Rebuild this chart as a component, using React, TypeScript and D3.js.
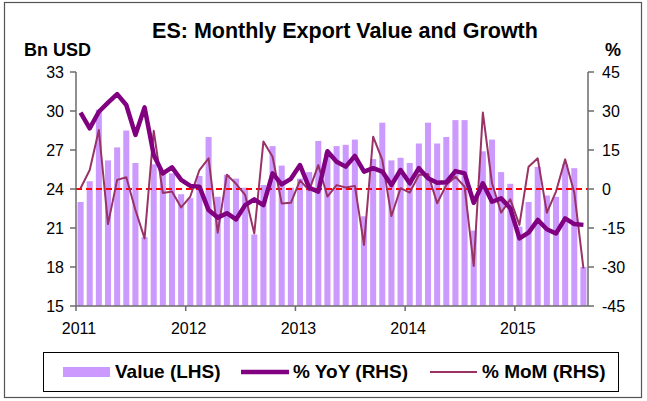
import React from "react";
import * as d3 from "d3";

const years = ["2011", "2012", "2013", "2014", "2015"];

const values = [
  23.0, 24.6, 30.1, 26.2, 27.2, 28.5, 26.0, 20.3, 25.9, 25.2, 25.2, 23.6,
  23.3, 25.0, 28.0, 23.4, 25.1, 24.8, 24.1, 20.5, 24.3, 27.3, 25.8, 24.1,
  24.8, 25.3, 27.7, 26.8, 27.3, 27.4, 27.8, 21.9, 26.3, 29.1, 26.2, 26.4,
  26.0, 27.5, 29.1, 27.5, 28.0, 29.3, 29.3, 20.8, 26.9, 27.8, 25.3, 24.4,
  21.1, 23.0, 25.7, 23.5, 23.4, 25.9, 25.6, 18.0,
];

const yoy = [
  29.4, 23.3, 29.7, 33.2, 36.5, 32.3, 20.8, 31.4, 13.1, 6.0, 8.3, 3.5,
  1.2, 0.9, -8.1, -11.0, -9.3, -11.7, -6.2, -4.0, -6.2, 6.0, 1.8, 3.9,
  9.2, 0.5, -1.0, 14.5, 10.5, 8.6, 12.7, 6.7, 8.0, 6.7, 1.5, 7.3,
  2.2, 8.0, 4.1, 2.4, 2.6, 6.9, 6.0, -5.3, 2.2, -4.9, -3.6, -7.4,
  -19.0, -16.8, -11.9, -15.5, -17.1, -11.3, -13.5, -13.8,
];

const mom = [
  0.3, 7.3, 22.7, -13.5, 3.5, 4.5, -8.1, -19.0, 22.4, -1.5, -1.0, -7.1,
  -2.9, 7.3, 11.8, -16.8, 5.5, 2.0, -2.3, -17.1, 18.3, 12.4, -5.6, -5.3,
  3.3, -0.5, 9.2, -2.9, 1.5, 0.6, 1.2, -21.5, 20.1, 11.2, -10.4, 0.3,
  -1.4, 5.4, 5.8, -5.5, 1.5, 4.7, 0.9, -29.6, 29.4, 2.2, -9.1, -4.0,
  -13.8, 8.6, 11.8, -9.1, -1.0, 11.4, -1.4, -30.5,
];

const leftTicks = [15, 18, 21, 24, 27, 30, 33];
const rightTicks = [-45, -30, -15, 0, 15, 30, 45];

const W = 647;
const H = 401;
const FONT = "'Liberation Sans', Arial, sans-serif";

export default function App() {
  const x0 = 76, x1 = 588, yTop = 72, yBot = 306;
  const n = values.length;
  const idx = d3.range(n);
  const x = d3.scaleBand<number>().domain(idx).range([x0, x1]).paddingInner(0.34).paddingOuter(0.17);
  const xl = d3.scaleLinear().domain([0, n]).range([x0, x1]);
  const yL = d3.scaleLinear().domain([15, 33]).range([yBot, yTop]);
  const yR = d3.scaleLinear().domain([-45, 45]).range([yBot, yTop]);
  const cx = (i: number) => (x(i) as number) + x.bandwidth() / 2;

  const lineYoy = d3.line<number>().x((_, i) => cx(i)).y((d) => yR(d));
  const lineMom = d3.line<number>().x((_, i) => cx(i)).y((d) => yR(d));

  const axisColor = "#6b6b6b";

  return (
    <svg width={W} height={H} style={{ position: "absolute", left: 0, top: 0, background: "#fff" }} fontFamily={FONT}>
      <rect x={4.5} y={2.5} width={637} height={395} fill="#fff" stroke="#555" strokeWidth={1.2} />
      <text x={345} y={38} textAnchor="middle" fontSize={21.5} fontWeight="bold">
        ES: Monthly Export Value and Growth
      </text>
      <text x={24} y={56} fontSize={18} fontWeight="bold">Bn USD</text>
      <text x={605} y={56} fontSize={18} fontWeight="bold">%</text>

      {values.map((v, i) => (
        <rect key={i} x={x(i)} y={yL(v)} width={x.bandwidth()} height={yBot - yL(v)} fill="#CC99FF" />
      ))}

      <line x1={x0} x2={x1} y1={yR(0)} y2={yR(0)} stroke="#FF0000" strokeWidth={2} strokeDasharray="6,4" />

      <path d={lineMom(mom) || ""} fill="none" stroke="#993366" strokeWidth={2} strokeLinejoin="round" />
      <path d={lineYoy(yoy) || ""} fill="none" stroke="#800080" strokeWidth={4.5} strokeLinejoin="round" />

      {/* left axis */}
      <line x1={x0} x2={x0} y1={yTop} y2={yBot} stroke={axisColor} strokeWidth={1.5} />
      {leftTicks.map((t) => (
        <g key={t}>
          <line x1={x0 - 6} x2={x0} y1={yL(t)} y2={yL(t)} stroke={axisColor} strokeWidth={1.5} />
          <text x={x0 - 12} y={yL(t)} dy="0.35em" textAnchor="end" fontSize={16}>{t}</text>
        </g>
      ))}

      {/* right axis */}
      <line x1={x1} x2={x1} y1={yTop} y2={yBot} stroke={axisColor} strokeWidth={1.5} />
      {rightTicks.map((t) => (
        <g key={t}>
          <line x1={x1} x2={x1 + 6} y1={yR(t)} y2={yR(t)} stroke={axisColor} strokeWidth={1.5} />
          <text x={x1 + 14} y={yR(t)} dy="0.35em" textAnchor="start" fontSize={16}>{t}</text>
        </g>
      ))}

      {/* bottom axis */}
      <line x1={x0} x2={x1} y1={yBot} y2={yBot} stroke={axisColor} strokeWidth={1.5} />
      {years.map((yr, k) => (
        <g key={yr}>
          <line x1={xl(k * 12)} x2={xl(k * 12)} y1={yBot} y2={yBot + 5} stroke={axisColor} strokeWidth={1.5} />
          <text x={xl(k * 12) + 3} y={yBot + 28} textAnchor="middle" fontSize={16}>{yr}</text>
        </g>
      ))}

      {/* legend */}
      <rect x={43.5} y={352.5} width={575} height={39} fill="#fff" stroke="#000" strokeWidth={1} />
      <rect x={63} y={367} width={47} height={10} fill="#CC99FF" />
      <text x={115} y={378} fontSize={19} fontWeight="bold">Value (LHS)</text>
      <line x1={241} x2={289} y1={372} y2={372} stroke="#800080" strokeWidth={4.5} />
      <text x={293} y={378} fontSize={19} fontWeight="bold">% YoY (RHS)</text>
      <line x1={430} x2={477} y1={372} y2={372} stroke="#993366" strokeWidth={2} />
      <text x={482} y={378} fontSize={19} fontWeight="bold">% MoM (RHS)</text>
    </svg>
  );
}
